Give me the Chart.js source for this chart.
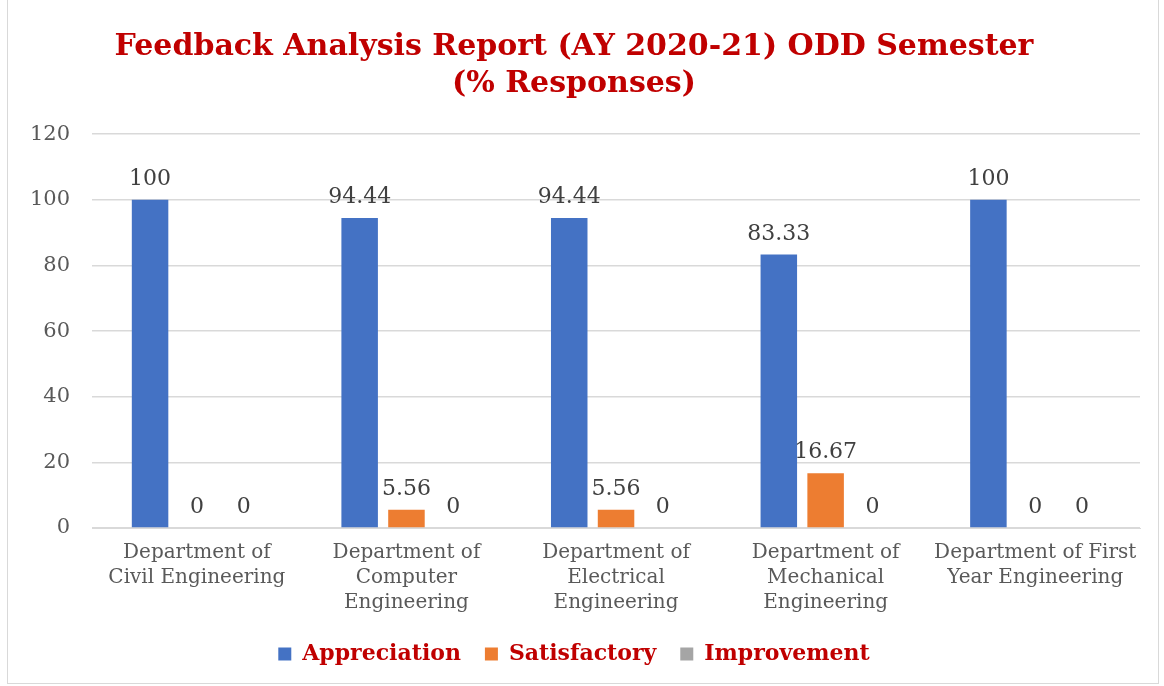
<!DOCTYPE html>
<html>
<head>
<meta charset="utf-8">
<script src="https://cdn.jsdelivr.net/npm/chart.js@4"></script>
<style>
  body { margin: 0; background: #fff; }
  #wrap { position: absolute; left: 7px; top: 0; width: 1152px; height: 684px; border: 1px solid #d9d9d9; border-top: none; box-sizing: border-box; }
</style>
</head>
<body>
<div id="wrap"><canvas id="chart"></canvas></div>
<script>
// categories and series
const departments = [
  ["Department of", "Civil Engineering"],
  ["Department of", "Computer", "Engineering"],
  ["Department of", "Electrical", "Engineering"],
  ["Department of", "Mechanical", "Engineering"],
  ["Department of First", "Year Engineering"],
];
const appreciation = [100, 94.44, 94.44, 83.33, 100];
const satisfactory = [0, 5.56, 5.56, 16.67, 0];
const improvement = [0, 0, 0, 0, 0];
const yTicks = [0, 20, 40, 60, 80, 100, 120];

const serif = "'DejaVu Serif', 'Liberation Serif', serif";

//draws the value above every bar
const valueLabels = {
  id: "valueLabels",
  afterDatasetsDraw(chart) {
    const ctx = chart.ctx;
    ctx.save();
    ctx.font = "22px " + serif;
    ctx.fillStyle = "#404040";
    ctx.textAlign = "center";
    ctx.textBaseline = "alphabetic";
    chart.data.datasets.forEach((ds, i) => {
      chart.getDatasetMeta(i).data.forEach((bar, j) => {
        ctx.fillText(String(ds.data[j]), bar.x, bar.y - 15);
      });
    });
    ctx.restore();
  },
};

new Chart(document.getElementById("chart"), {
  type: "bar",
  plugins: [valueLabels],
  data: {
    labels: departments,
    datasets: [
      { label: "Appreciation", data: appreciation, backgroundColor: "#4472C4" },
      { label: "Satisfactory", data: satisfactory, backgroundColor: "#ED7D31" },
      { label: "Improvement", data: improvement, backgroundColor: "#A5A5A5" },
    ],
  },
  options: {
    responsive: true,
    maintainAspectRatio: false,
    animation: false,
    layout: { padding: { left: 0, right: 18, top: 29, bottom: 8 } },
    datasets: { bar: { barPercentage: 0.78, categoryPercentage: 0.67 } },
    plugins: {
      tooltip: { enabled: false },
      title: {
        display: true,
        text: ["Feedback Analysis Report (AY 2020-21) ODD Semester", "(% Responses)"],
        color: "#C00000",
        font: { family: serif, size: 30, weight: "bold", lineHeight: 1.22 },
        padding: { top: 0, bottom: 32 },
      },
      legend: {
        position: "bottom",
        labels: {
          color: "#C00000",
          font: { family: serif, size: 22, weight: "bold" },
          boxWidth: 13,
          boxHeight: 13,
          padding: 24,
        },
      },
    },
    scales: {
      x: {
        grid: { display: false },
        border: { color: "#d9d9d9" },
        ticks: { color: "#595959", font: { family: serif, size: 20, lineHeight: 1.25 }, maxRotation: 0, padding: 4 },
      },
      y: {
        min: 0,
        max: 120,
        afterBuildTicks: (axis) => { axis.ticks = yTicks.map((v) => ({ value: v })); },
        grid: { color: "#d9d9d9", lineWidth: 1.5, drawTicks: false },
        border: { display: false },
        ticks: { color: "#595959", font: { family: serif, size: 21 }, padding: 22 },
      },
    },
  },
});
</script>
</body>
</html>
